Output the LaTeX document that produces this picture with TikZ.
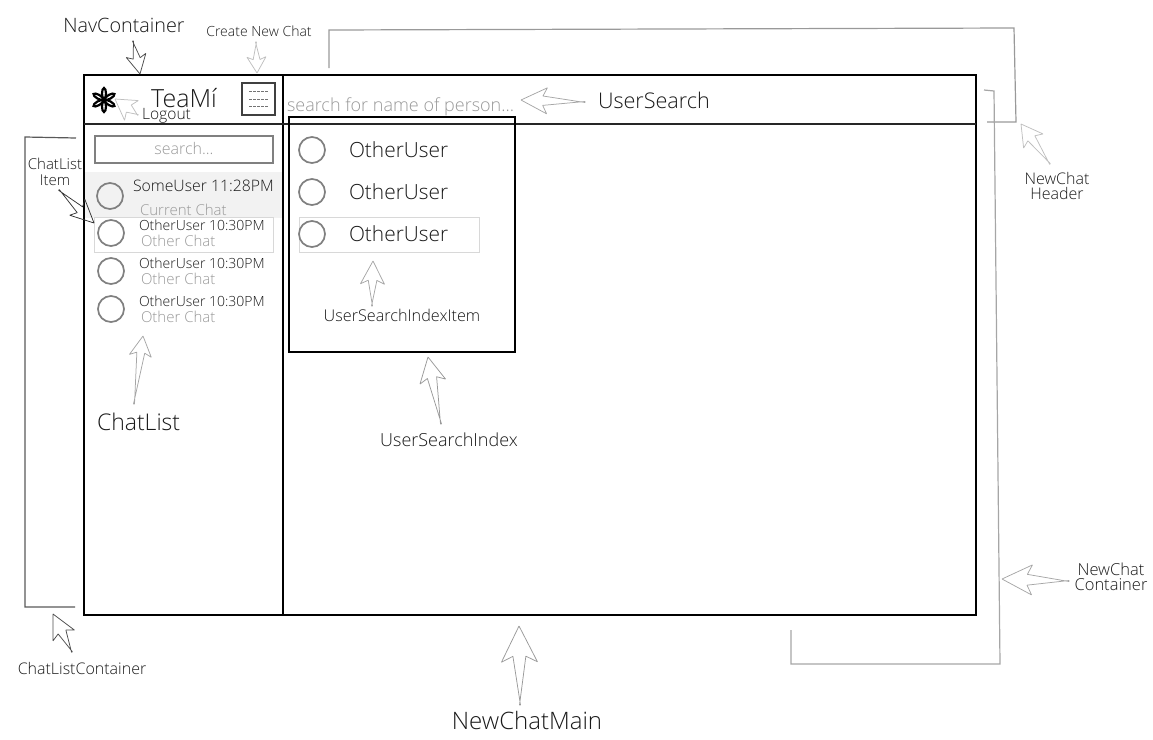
\documentclass[tikz,border=0pt]{standalone}
\usepackage{fontspec}
\setmainfont{Open Sans}[UprightFont=* Light]
\usetikzlibrary{calc}

\definecolor{ringgray}{HTML}{808080}
\definecolor{hintgray}{HTML}{999999}
\definecolor{rowgray}{HTML}{F2F2F2}
\definecolor{pickgray}{HTML}{D8D8D8}

\tikzset{
  lbl/.style={inner sep=0pt,outer sep=0pt,text=black!90,align=center,
    font=\fontsize{#1}{#1}\selectfont},
  hint/.style={lbl=#1,text=hintgray},
  wire/.style={draw=black,line width=2.4pt},
  bracket/.style={line width=1.2pt,line join=miter},
  avatar/.style={circle,draw=ringgray,line width=1.7pt,minimum size=26pt,inner sep=0pt}
}

% tail, tip, head length, head half width
\newcommand{\annarrow}[6][black!55]{%
  \coordinate (#2t) at #3;
  \coordinate (#2h) at #4;
  \draw[#1,line width=.75pt,line join=bevel] (#2h)
    -- ($(#2h)!#5pt!(#2t)!#6pt!90:(#2t)$)
    -- ($(#2h)!0.84*#5pt!(#2t)!0.36*#6pt!90:(#2t)$)
    -- ($(#2t)!.5pt!90:(#2h)$)
    -- ($(#2t)!.5pt!-90:(#2h)$)
    -- ($(#2h)!0.84*#5pt!(#2t)!0.36*#6pt!-90:(#2t)$)
    -- ($(#2h)!#5pt!(#2t)!#6pt!-90:(#2t)$)
    -- cycle;}

\begin{document}
\begin{tikzpicture}[x=1pt,y=-1pt]
  \useasboundingbox (0,0) rectangle (1153,739);

  % current chat row
  \fill[rowgray] (84,172) rectangle (283,218);

  % frame
  \draw[wire] (84,75) rectangle (976,615);
  \draw[wire] (283,75) -- (283,615);
  \draw[line width=2pt,black!85] (84,123.5) -- (976,123.5);

  % nav
  \foreach \ang in {90,150,210,270,330,30}
    \draw[line width=2.2pt,shift={(104,100)},rotate=\ang] (6.5,0) ellipse (5.5 and 2);
  \node[lbl=25] (brand) at (184,98) {TeaMí};
  \node[lbl=15.6] (logout) at (166.5,115.5) {Logout};
  \draw[black!75,line width=1.8pt] (242,83) rectangle (275,115);
  \foreach \yy in {91,99,106}
    \draw[black!55,line width=.5pt,dash pattern=on 3pt off 1pt] (249,\yy) -- (268,\yy);

  % chat list
  \draw[ringgray,line width=1.7pt] (95,136) rectangle (273,163);
  \node[hint=16] (filter) at (184,148) {search...};
  \node[avatar] (some) at (110,196) {};
  \node[lbl=15.8,anchor=west] (sometext) at (133,186) {SomeUser 11:28PM};
  \node[hint=15,anchor=west] (somechat) at (140,210) {Current Chat};
  \draw[pickgray,line width=1pt] (94,217) rectangle (273,252);
  \foreach \nn/\yy in {a/233,b/271,c/309}{
    \node[avatar] (other\nn) at (111,\yy) {};
    \node[lbl=14,anchor=west] at (139,\yy-8) {OtherUser 10:30PM};
    \node[hint=15,anchor=west] at (141,\yy+8) {Other Chat};
  }

  % search index
  \node[hint=18,anchor=west] (people) at (287,107) {search for name of person...};
  \draw[wire] (289,117) rectangle (515,352);
  \draw[pickgray,line width=1pt] (299,217) rectangle (479,252);
  \foreach \nn/\yy in {a/150,b/192,c/234}{
    \node[avatar] (user\nn) at (312,\yy) {};
    \node[lbl=20.9,anchor=west] at (349,\yy) {OtherUser};
  }

  % brackets
  \draw[bracket,black!65] (76,138) -- (25,137) -- (25,607) -- (75,607);
  \draw[bracket,black!40] (329,68) -- (329,30) -- (1014,28) -- (1016,122) -- (987,122);
  \draw[bracket,black!35] (984,90) -- (994,91) -- (1000,664) -- (791,664) -- (791,630);

  % labels
  \node[lbl=19.8] (navlbl) at (124,25) {NavContainer};
  \node[lbl=14] (createlbl) at (259,31) {Create New Chat};
  \node[lbl=15] (itemlbl) at (55,172) {ChatList\\[1pt]Item};
  \node[lbl=23,anchor=west] (listlbl) at (97,422) {ChatList};
  \node[lbl=16] (boxlbl) at (82,668) {ChatListContainer};
  \node[lbl=21.6,anchor=west] (searchlbl) at (598,100) {UserSearch};
  \node[lbl=16.2] (rowlbl) at (402,315) {UserSearchIndexItem};
  \node[lbl=18] (indexlbl) at (449,440) {UserSearchIndex};
  \node[lbl=16] (headlbl) at (1057,185.5) {NewChat\\[-1pt]Header};
  \node[lbl=16.5] (contlbl) at (1111,577) {NewChat\\[-1pt]Container};
  \node[lbl=24] (mainlbl) at (527,720) {NewChatMain};

  % arrows
  \annarrow[black!70]{nav}{(133,41)}{(140,74)}{19}{10}
  \annarrow[black!25]{create}{(256,42)}{(257,73)}{16}{9.5}
  \annarrow[black!25]{out}{(138,115)}{(115,99)}{20}{12}
  \annarrow[black!80]{item}{(59,190)}{(94,223)}{23}{11}
  \annarrow[black!35]{list}{(134,404)}{(143,336)}{20}{11}
  \annarrow[black!70]{box}{(72,652)}{(53,614)}{24}{12}
  \annarrow[black!35]{search}{(585,102)}{(521,100)}{26}{13}
  \annarrow[black!35]{row}{(372,306)}{(373,261)}{23}{12}
  \annarrow[black!40]{index}{(441,424)}{(428,357)}{25}{13}
  \annarrow[black!25]{head}{(1050,164)}{(1021,124)}{21}{12}
  \annarrow[black!35]{cont}{(1069,581)}{(1002,579)}{30}{15}
  \annarrow[black!40]{main}{(520,705)}{(519,626)}{36}{18}
\end{tikzpicture}
\end{document}
